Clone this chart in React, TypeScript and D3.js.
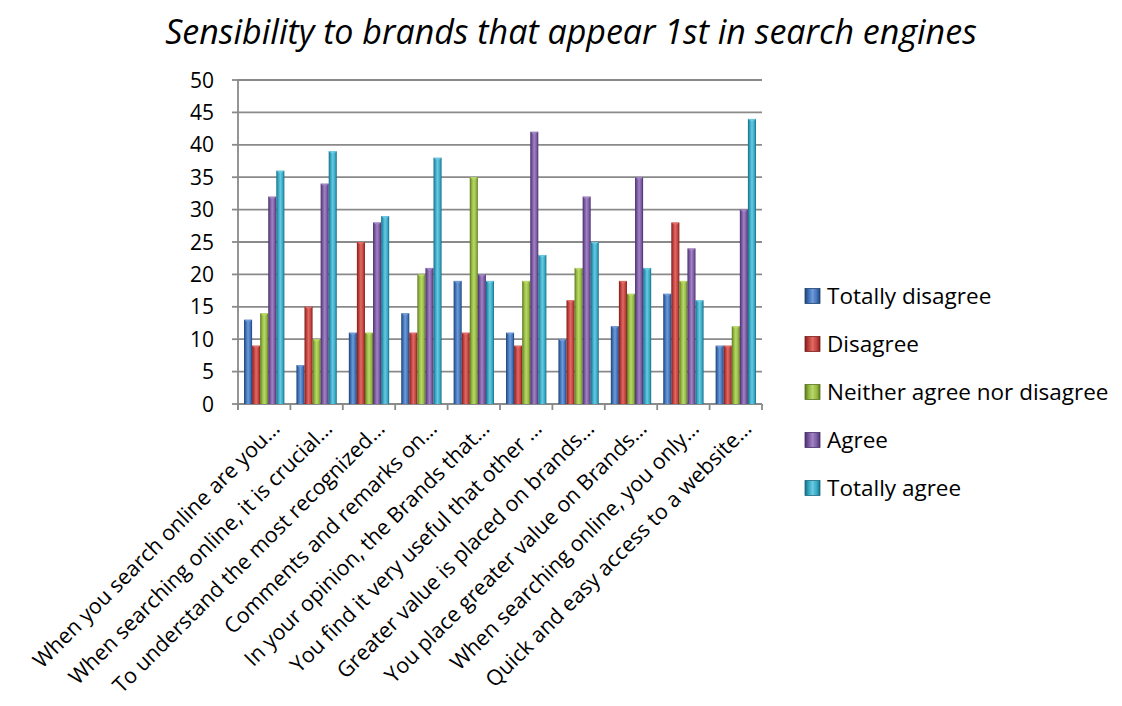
import React from "react";
import * as d3 from "d3";

const categories = [
  "When you search online are you…",
  "When searching online, it is crucial…",
  "To understand the most recognized…",
  "Comments and remarks on…",
  "In your opinion, the Brands that…",
  "You find it very useful that other …",
  "Greater value is placed on brands…",
  "You place greater value on Brands…",
  "When searching online, you only…",
  "Quick and easy access to a website…",
];
const seriesNames = ["Totally disagree", "Disagree", "Neither agree nor disagree", "Agree", "Totally agree"];
const totallyDisagree = [13, 6, 11, 14, 19, 11, 10, 12, 17, 9];
const disagree = [9, 15, 25, 11, 11, 9, 16, 19, 28, 9];
const neither = [14, 10, 11, 20, 35, 19, 21, 17, 19, 12];
const agree = [32, 34, 28, 21, 20, 42, 32, 35, 24, 30];
const totallyAgree = [36, 39, 29, 38, 19, 23, 25, 21, 16, 44];
const yTicks = [0, 5, 10, 15, 20, 25, 30, 35, 40, 45, 50];
const title = "Sensibility to brands that appear 1st in search engines";

const seriesValues = [totallyDisagree, disagree, neither, agree, totallyAgree];
const colors = ["#3f72b8", "#c0403c", "#94b840", "#7a58a0", "#33a8c4"];
const darks = ["#1f4270", "#7a1f1c", "#5a7420", "#46306a", "#1b6a80"];
const lights = ["#6f9ad8", "#e06a66", "#b8d868", "#a184c4", "#6cc8e0"];

const FONT = "'Open Sans', 'Liberation Sans', sans-serif";

export default function App() {
  const W = 1122, H = 706;
  const left = 238, right = 762, top = 80, bottom = 404;
  const y = d3.scaleLinear().domain([0, 50]).range([bottom, top]);
  const x = d3.scaleBand<number>().domain(d3.range(categories.length)).range([left, right]).paddingInner(0.23).paddingOuter(0.115);
  const xs = d3.scaleBand<number>().domain(d3.range(seriesNames.length)).range([0, x.bandwidth()]);
  const bw = xs.bandwidth();
  const step = (right - left) / categories.length;
  const tickXs = d3.range(categories.length + 1).map((i) => left + i * step);

  return (
    <svg width={W} height={H} style={{ display: "block", position: "absolute", left: 0, top: 0 }} fontFamily={FONT}>
      <defs>
        {colors.map((c, i) => (
          <linearGradient key={i} id={`g${i}`} x1="0" x2="1" y1="0" y2="0">
            <stop offset="0" stopColor={darks[i]} />
            <stop offset="0.25" stopColor={c} />
            <stop offset="0.5" stopColor={lights[i]} />
            <stop offset="0.8" stopColor={c} />
            <stop offset="1" stopColor={darks[i]} />
          </linearGradient>
        ))}
      </defs>
      <rect width={W} height={H} fill="#fff" />
      <text x={571} y={44} textAnchor="middle" fontSize={34} fontStyle="italic" fill="#000">{title}</text>
      {/* gridlines */}
      {yTicks.map((t) => (
        <line key={t} x1={left} x2={right} y1={y(t)} y2={y(t)} stroke="#8a8a8a" strokeWidth={1.8} />
      ))}
      {/* y axis */}
      <line x1={left} x2={left} y1={top} y2={bottom + 6} stroke="#8a8a8a" strokeWidth={1.8} />
      {yTicks.map((t) => (
        <g key={t}>
          <line x1={left - 6} x2={left} y1={y(t)} y2={y(t)} stroke="#8a8a8a" strokeWidth={1.8} />
          <text x={214} y={y(t)} dy="0.36em" textAnchor="end" fontSize={21} fill="#000">{t}</text>
        </g>
      ))}
      {tickXs.map((tx, i) => (
        <line key={i} x1={tx} x2={tx} y1={bottom} y2={bottom + 6} stroke="#8a8a8a" strokeWidth={1.8} />
      ))}
      {/* bars */}
      {categories.map((_, ci) => (
        <g key={ci} transform={`translate(${x(ci)},0)`}>
          {seriesValues.map((vals, si) => {
            const v = vals[ci];
            const bx = xs(si)!;
            return (
              <g key={si}>
                <rect x={bx} y={y(v)} width={bw} height={bottom - y(v)} fill={`url(#g${si})`} />
                <path d={`M${bx},${y(v)}L${bx + bw},${y(v)}L${bx + bw / 2},${y(v) + 3}Z`} fill={lights[si]} />
              </g>
            );
          })}
        </g>
      ))}
      {/* x labels */}
      {categories.map((c, ci) => {
        const cx = x(ci)! + x.bandwidth() / 2 + 17;
        return (
          <text key={ci} transform={`translate(${cx},${bottom + 26}) rotate(-45)`} textAnchor="end" fontSize={21.5} fill="#000">{c}</text>
        );
      })}
      {/* legend */}
      {seriesNames.map((n, i) => {
        const ly = 296 + i * 48;
        return (
          <g key={i}>
            <rect x={805} y={ly - 7.5} width={15} height={15} fill={`url(#g${i})`} stroke={darks[i]} strokeWidth={0.8} />
            <text x={827} y={ly} dy="0.36em" fontSize={22.5} fill="#000">{n}</text>
          </g>
        );
      })}
    </svg>
  );
}
